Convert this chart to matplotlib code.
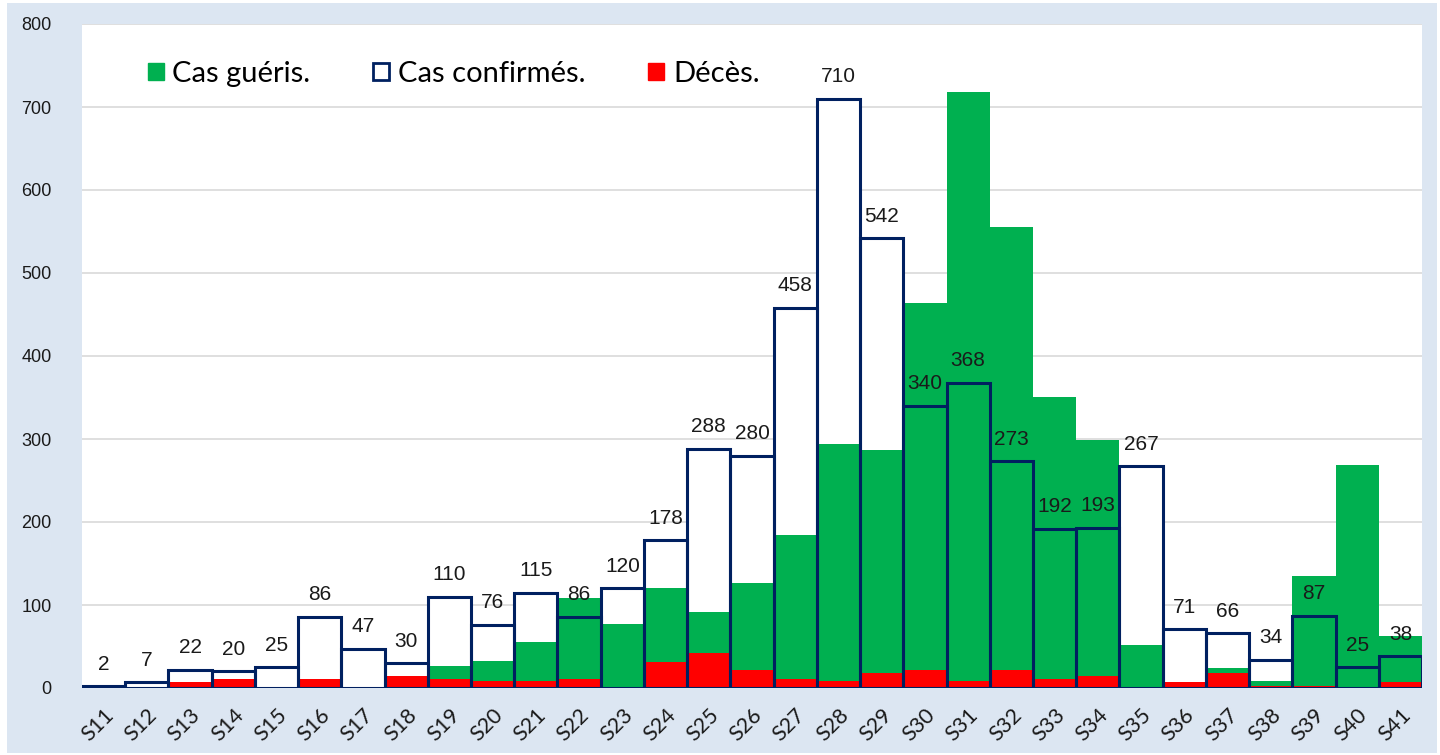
import matplotlib.pyplot as plt
from matplotlib.patches import Patch, Rectangle

# weekly figures
weeks = [f"S{i}" for i in range(11, 42)]
confirmes = [2, 7, 22, 20, 25, 86, 47, 30, 110, 76, 115, 86, 120, 178, 288, 280,
             458, 710, 542, 340, 368, 273, 192, 193, 267, 71, 66, 34, 87, 25, 38]
gueris = [0, 0, 0, 0, 0, 0, 0, 0, 27, 33, 56, 109, 77, 120, 91, 126,
          184, 294, 287, 464, 718, 555, 351, 299, 52, 0, 24, 9, 135, 269, 63]
deces = [0, 0, 7, 11, 1, 11, 1, 14, 11, 8, 8, 11, 1, 31, 42, 22,
         11, 8, 18, 22, 8, 22, 11, 15, 0, 7, 18, 2, 2, 0, 7]

green = '#00B050'
navy = '#002060'
red = '#FF0000'
bg = '#DCE6F2'

fig = plt.figure(figsize=(14.4, 7.55), dpi=100, facecolor='white')
fig.patches.append(Rectangle((7 / 1440, 2 / 755), 1430 / 1440, 750 / 755,
                             transform=fig.transFigure, facecolor=bg,
                             edgecolor='none', zorder=-10))
ax = fig.add_axes([82 / 1440, 1 - 688 / 755, 1340 / 1440, 664 / 755])
ax.set_facecolor('white')

x = range(len(weeks))
ax.bar(x, confirmes, width=1, color='white', edgecolor='none', zorder=2)
ax.bar(x, gueris, width=1, color=green, edgecolor='none', zorder=3)
ax.bar(x, deces, width=1, color=red, edgecolor='none', zorder=3.5)
ax.bar(x, confirmes, width=1, fill=False, edgecolor=navy, linewidth=2.2, zorder=4)

for xi, v in zip(x, confirmes):
    ax.annotate(str(v), (xi, v), xytext=(0, 9), textcoords='offset points',
                ha='center', va='bottom', fontsize=15,
                family='Liberation Sans', color='#1a1a1a', zorder=6)

ax.set_xlim(-0.5, len(weeks) - 0.5)
ax.set_ylim(0, 800)
ax.set_yticks(range(0, 801, 100))
ax.yaxis.grid(True, color='#D9D9D9', linewidth=1.2)
ax.set_axisbelow(True)
for s in ax.spines.values():
    s.set_visible(False)
ax.axhline(0, color='#D0D0D0', linewidth=1.2, zorder=1)
ax.tick_params(length=0)
ax.tick_params(axis='y', pad=22)
for lab in ax.get_yticklabels():
    lab.set_family('Liberation Sans')
    lab.set_fontsize(13)
    lab.set_color('#1a1a1a')

ax.set_xticks(list(x))
ax.set_xticklabels(weeks, rotation=45, ha='right', va='top',
                   rotation_mode='anchor', fontsize=15.5, family='Lato',
                   color='#1a1a1a')
ax.tick_params(axis='x', pad=12)

handles = [Patch(facecolor=green, edgecolor=green),
           Patch(facecolor='white', edgecolor=navy, linewidth=2),
           Patch(facecolor=red, edgecolor=red)]
ax.legend(handles, ['Cas guéris.', 'Cas confirmés.', 'Décès.'],
          loc='center left', bbox_to_anchor=(0.049, 0.925), ncol=3,
          frameon=False, borderpad=0, borderaxespad=0,
          prop={'family': 'Lato', 'size': 21},
          handlelength=0.55, handleheight=0.55, handletextpad=0.3,
          columnspacing=2.15)

fig.savefig('out.png', dpi=100, facecolor='white')
